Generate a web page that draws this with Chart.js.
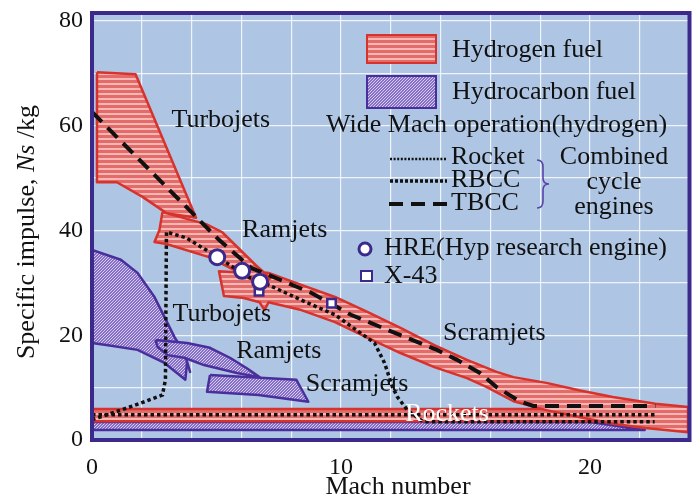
<!DOCTYPE html>
<html>
<head>
<meta charset="utf-8">
<script src="https://cdn.jsdelivr.net/npm/chart.js@4.4.1/dist/chart.umd.min.js"></script>
<style>
  html, body { margin: 0; padding: 0; background: #fff; }
</style>
</head>
<body>
<canvas id="isp" width="700" height="499"></canvas>
<script>
// regions, Mach number (x) vs specific impulse (y)
const h2Turbojet = [
    {x:0.2, y:70.2}, {x:1.75, y:69.8}, {x:4.18, y:42.4}, {x:2.99, y:43.3},
    {x:2.03, y:46.4}, {x:1.0, y:49.2}, {x:0.2, y:49.2}
];
const h2Ramjet = [
    {x:2.83, y:43.5}, {x:4.58, y:41.2}, {x:5.22, y:39.7}, {x:6.57, y:33.4},
    {x:7.17, y:30.9}, {x:6.77, y:29.6}, {x:5.78, y:32.3}, {x:4.70, y:34.9},
    {x:2.99, y:37.4}, {x:2.51, y:37.8}, {x:2.71, y:40.1}
];
const h2Scramjet = [
    {x:7.09, y:31.9}, {x:8.41, y:29.6}, {x:9.76, y:27.3}, {x:11.08, y:24.4},
    {x:12.39, y:21.4}, {x:13.75, y:18.1}, {x:15.06, y:15.3}, {x:16.25, y:13.0},
    {x:16.93, y:12.0}, {x:18.25, y:10.9}, {x:19.56, y:9.5}, {x:20.92, y:8.2},
    {x:22.63, y:6.9}, {x:23.94, y:6.3}, {x:23.94, y:1.5}, {x:22.23, y:2.3},
    {x:20.92, y:3.1}, {x:19.56, y:4.4}, {x:18.25, y:5.7}, {x:16.93, y:7.4},
    {x:15.86, y:10.1}, {x:15.06, y:11.8}, {x:13.75, y:13.9}, {x:12.39, y:16.6},
    {x:11.08, y:19.5}, {x:9.76, y:22.5}, {x:8.41, y:24.8}, {x:7.09, y:26.3},
    {x:6.93, y:24.8}, {x:6.73, y:26.3}, {x:6.10, y:27.1}, {x:5.30, y:27.5},
    {x:5.10, y:32.2}, {x:6.10, y:31.9}
];
const h2Rocket = [
    {x:0, y:3.6}, {x:0, y:5.9}, {x:24, y:5.9}, {x:24, y:3.6}
];
const hcTurbojet = [
    {x:0, y:36.3}, {x:1.16, y:34.4}, {x:1.83, y:31.9}, {x:2.51, y:27.3},
    {x:2.91, y:23.5}, {x:3.31, y:19.7}, {x:3.71, y:16.6}, {x:3.94, y:13.0},
    {x:3.82, y:14.9}, {x:3.75, y:11.5}, {x:2.91, y:14.7}, {x:1.83, y:17.2},
    {x:0.64, y:18.1}, {x:0, y:18.5}
];
const hcRamjet = [
    {x:2.55, y:19.1}, {x:3.82, y:18.5}, {x:4.74, y:17.6}, {x:5.54, y:15.7},
    {x:6.22, y:13.7}, {x:6.73, y:12.0}, {x:5.82, y:12.8}, {x:4.50, y:14.3},
    {x:3.71, y:15.7}, {x:3.03, y:16.2}, {x:2.63, y:17.8}
];
const hcScramjet = [
    {x:4.74, y:12.4}, {x:8.21, y:11.5}, {x:8.69, y:7.3}, {x:6.69, y:8.6},
    {x:4.62, y:9.2}
];
const hcRocket = [
    {x:0, y:1.9}, {x:0, y:3.45}, {x:20.0, y:3.45}, {x:22.2, y:1.9}
];

const rocketLine = [{x:0, y:4.8}, {x:22.6, y:4.8}];
const rbccLine = [
    {x:0, y:3.9}, {x:1.16, y:5.7}, {x:2.11, y:7.3}, {x:2.83, y:8.6},
    {x:2.95, y:11.5}, {x:2.99, y:39.7}, {x:3.78, y:38.6}, {x:4.78, y:35.7},
    {x:6.29, y:31.1}, {x:7.09, y:29.6}, {x:8.41, y:26.7}, {x:9.76, y:23.9},
    {x:11.0, y:19.7}, {x:11.35, y:18.5}, {x:11.75, y:14.7}, {x:12.07, y:10.1},
    {x:12.27, y:8.2}, {x:12.67, y:5.7}, {x:13.3, y:3.5}, {x:22.6, y:3.5}
];
const tbccLine = [
    {x:0, y:62.6}, {x:5.10, y:38.2}, {x:6.41, y:32.8}, {x:7.09, y:31.5},
    {x:8.80, y:28.1}, {x:10.40, y:23.9}, {x:12.39, y:20.0}, {x:13.86, y:17.2},
    {x:14.66, y:15.3}, {x:15.58, y:12.8}, {x:16.25, y:10.1}, {x:17.17, y:7.4},
    {x:17.73, y:6.5}, {x:22.63, y:6.5}
];
const hreTests = [{x:5.03, y:34.9}, {x:6.03, y:32.3}, {x:6.75, y:30.2}];
const x43Tests = [{x:6.71, y:28.4}, {x:9.62, y:26.1}];

const xTicks = [0, 2, 4, 6, 8, 10, 12, 14, 16, 18, 20, 22, 24];
const xTickLabels = [0, 10, 20];
const yTicks = [0, 10, 20, 30, 40, 50, 60, 70, 80];
const yTickLabels = [0, 20, 40, 60, 80];

const SERIF = "'Liberation Serif', 'Times New Roman', serif";
const RED = '#d8322c';
const PURPLE = '#4a2e9c';
const FRAME = '#3b2a8c';

function makePattern(draw, w, h) {
    let c = document.createElement('canvas');
    c.width = w;
    c.height = h;
    draw(c.getContext('2d'));
    return document.getElementById('isp').getContext('2d').createPattern(c, 'repeat');
}

const h2Fill = makePattern(function (g) {
    g.fillStyle = '#e36b6a';
    g.fillRect(0, 0, 4, 5);
    g.fillStyle = '#f5b8b4';
    g.fillRect(0, 3, 4, 2);
}, 4, 5);

const hcFill = makePattern(function (g) {
    g.fillStyle = '#8670c6';
    g.fillRect(0, 0, 3, 3);
    g.fillStyle = '#d6ccf2';
    for (let i = 0; i < 3; i++) g.fillRect(i, 2 - i, 1, 1);
}, 3, 3);

function region(label, pts, h2, order) {
    return {
        label: label,
        data: pts.concat([pts[0]]),
        borderColor: h2 ? RED : PURPLE,
        backgroundColor: h2 ? h2Fill : hcFill,
        borderWidth: 2.5,
        borderJoinStyle: 'round',
        fill: 'shape',
        pointRadius: 0,
        tension: 0,
        order: order
    };
}

function curve(label, pts, dash, width, order) {
    return {
        label: label,
        data: pts,
        borderColor: '#111',
        borderWidth: width,
        borderDash: dash,
        borderCapStyle: 'butt',
        fill: false,
        pointRadius: 0,
        tension: 0,
        order: order
    };
}

const overlay = {
    id: 'overlay',
    beforeDraw(chart) {
        const a = chart.chartArea;
        const ctx = chart.ctx;
        ctx.save();
        ctx.fillStyle = '#aec6e4';
        ctx.fillRect(a.left, a.top, a.right - a.left, a.bottom - a.top);
        ctx.restore();
    },
    afterDatasetsDraw(chart) {
        const ctx = chart.ctx;
        const a = chart.chartArea;
        const sx = chart.scales.x, sy = chart.scales.y;

        ctx.save();
        ctx.textBaseline = 'middle';
        ctx.textAlign = 'left';
        ctx.font = '26px ' + SERIF;

        // region names
        let names = [
            ['Turbojets', 3.19, 61.1, '#111'],
            ['Ramjets', 6.03, 40.1, '#111'],
            ['Scramjets', 14.1, 20.4, '#111'],
            ['Rockets', 12.58, 5.0, '#fff'],
            ['Turbojets', 3.23, 24.0, '#111'],
            ['Ramjets', 5.79, 17.0, '#111'],
            ['Scramjets', 8.59, 10.7, '#111']
        ];
        names.forEach(function (n) {
            ctx.fillStyle = n[3];
            ctx.fillText(n[0], sx.getPixelForValue(n[1]), sy.getPixelForValue(n[2]));
        });

        // legend
        ctx.fillStyle = h2Fill;
        ctx.fillRect(367, 35, 69, 28);
        ctx.strokeStyle = RED;
        ctx.lineWidth = 2;
        ctx.strokeRect(367, 35, 69, 28);
        ctx.fillStyle = hcFill;
        ctx.fillRect(367, 76, 69, 32);
        ctx.strokeStyle = PURPLE;
        ctx.strokeRect(367, 76, 69, 32);

        ctx.fillStyle = '#111';
        ctx.fillText('Hydrogen fuel', 452, 50);
        ctx.fillText('Hydrocarbon fuel', 452, 92);
        ctx.fillText('Wide Mach operation(hydrogen)', 326, 125);
        ctx.fillText('Rocket', 451, 157);
        ctx.fillText('RBCC', 451, 180);
        ctx.fillText('TBCC', 451, 203);
        ctx.fillText('HRE(Hyp research engine)', 384, 248);
        ctx.fillText('X-43', 384, 276);
        ctx.textAlign = 'center';
        ctx.fillText('Combined', 614, 157);
        ctx.fillText('cycle', 614, 182);
        ctx.fillText('engines', 614, 207);

        ctx.strokeStyle = '#111';
        ctx.lineCap = 'butt';
        ctx.lineWidth = 2.5;
        ctx.setLineDash([2, 1.6]);
        ctx.beginPath();
        ctx.moveTo(390, 159);
        ctx.lineTo(447, 159);
        ctx.stroke();
        ctx.lineWidth = 3.5;
        ctx.setLineDash([3, 2]);
        ctx.beginPath();
        ctx.moveTo(390, 181);
        ctx.lineTo(447, 181);
        ctx.stroke();
        ctx.lineWidth = 4;
        ctx.setLineDash([14, 8]);
        ctx.beginPath();
        ctx.moveTo(389, 204);
        ctx.lineTo(447, 204);
        ctx.stroke();
        ctx.setLineDash([]);

        // brace
        ctx.strokeStyle = '#5b43a8';
        ctx.lineWidth = 1.6;
        ctx.beginPath();
        ctx.moveTo(537, 160);
        ctx.quadraticCurveTo(543, 160, 543, 167);
        ctx.lineTo(543, 178);
        ctx.quadraticCurveTo(543, 184, 549, 184);
        ctx.quadraticCurveTo(543, 184, 543, 190);
        ctx.lineTo(543, 201);
        ctx.quadraticCurveTo(543, 208, 537, 208);
        ctx.stroke();

        ctx.fillStyle = '#fff';
        ctx.strokeStyle = FRAME;
        ctx.lineWidth = 3;
        ctx.beginPath();
        ctx.arc(365, 249, 6, 0, Math.PI * 2);
        ctx.fill();
        ctx.stroke();
        ctx.lineWidth = 2;
        ctx.fillRect(361, 271, 11, 10);
        ctx.strokeRect(361, 271, 11, 10);

        // frame
        ctx.strokeStyle = FRAME;
        ctx.lineWidth = 4;
        ctx.strokeRect(a.left, a.top, a.right - a.left, a.bottom - a.top);

        // axis titles
        ctx.fillStyle = '#111';
        ctx.textAlign = 'center';
        ctx.fillText('Mach number', 398, 487);

        ctx.translate(27, 232);
        ctx.rotate(-Math.PI / 2);
        ctx.textAlign = 'left';
        let parts = [['Specific impulse, ', ''], ['Ns', 'italic '], [' /kg', '']];
        let total = 0;
        parts.forEach(function (p) {
            ctx.font = p[1] + '26px ' + SERIF;
            total += ctx.measureText(p[0]).width;
        });
        let pos = -total / 2;
        parts.forEach(function (p) {
            ctx.font = p[1] + '26px ' + SERIF;
            ctx.fillText(p[0], pos, 0);
            pos += ctx.measureText(p[0]).width;
        });
        ctx.restore();
    }
};

new Chart("isp", {
    type: "line",
    data: {
        datasets: [
            {
                label: "HRE(Hyp research engine)",
                data: hreTests,
                showLine: false,
                pointStyle: 'circle',
                pointRadius: 7.5,
                pointBorderWidth: 3,
                pointBackgroundColor: '#fff',
                pointBorderColor: FRAME,
                order: 0
            },
            {
                label: "X-43",
                data: x43Tests,
                showLine: false,
                pointStyle: 'rect',
                pointRadius: 6,
                pointBorderWidth: 2.5,
                pointBackgroundColor: '#fff',
                pointBorderColor: FRAME,
                order: 0
            },
            curve("TBCC", tbccLine, [14, 8], 4, 1),
            curve("RBCC", rbccLine, [3.5, 3], 3.5, 1),
            curve("Rocket", rocketLine, [3.5, 3], 3.5, 1),
            region("Hydrogen ramjets", h2Ramjet, true, 2),
            region("Hydrogen scramjets", h2Scramjet, true, 3),
            region("Hydrogen turbojets", h2Turbojet, true, 4),
            region("Hydrocarbon scramjets", hcScramjet, false, 5),
            region("Hydrocarbon ramjets", hcRamjet, false, 6),
            region("Hydrocarbon turbojets", hcTurbojet, false, 7),
            region("Hydrogen rockets", h2Rocket, true, 8),
            region("Hydrocarbon rockets", hcRocket, false, 9)
        ]
    },
    options: {
        responsive: false,
        animation: false,
        events: [],
        layout: { padding: { top: 13, right: 7 } },
        scales: {
            x: {
                type: 'linear',
                min: 0,
                max: 24,
                afterFit: function (s) {
                    s.height = 59;
                    s.paddingLeft = 0;
                    s.paddingRight = 0;
                },
                afterBuildTicks: function (s) { s.ticks = xTicks.map(v => ({value: v})); },
                grid: { color: 'rgba(255,255,255,0.8)', lineWidth: 1.2, drawTicks: false },
                border: { display: false },
                ticks: {
                    padding: 13,
                    color: '#111',
                    font: { family: SERIF, size: 24 },
                    maxRotation: 0,
                    autoSkip: false,
                    callback: v => xTickLabels.includes(v) ? String(v) : ''
                }
            },
            y: {
                min: 0,
                max: 81.5,
                afterFit: function (s) {
                    s.width = 92;
                    s.paddingTop = 0;
                    s.paddingBottom = 0;
                },
                afterBuildTicks: function (s) { s.ticks = yTicks.map(v => ({value: v})); },
                grid: { color: 'rgba(255,255,255,0.8)', lineWidth: 1.2, drawTicks: false },
                border: { display: false },
                ticks: {
                    padding: 9,
                    color: '#111',
                    font: { family: SERIF, size: 24 },
                    autoSkip: false,
                    callback: v => yTickLabels.includes(v) ? String(v) : ''
                }
            }
        },
        plugins: {
            legend: { display: false },
            tooltip: { enabled: false }
        }
    },
    plugins: [overlay]
});
</script>
</body>
</html>
